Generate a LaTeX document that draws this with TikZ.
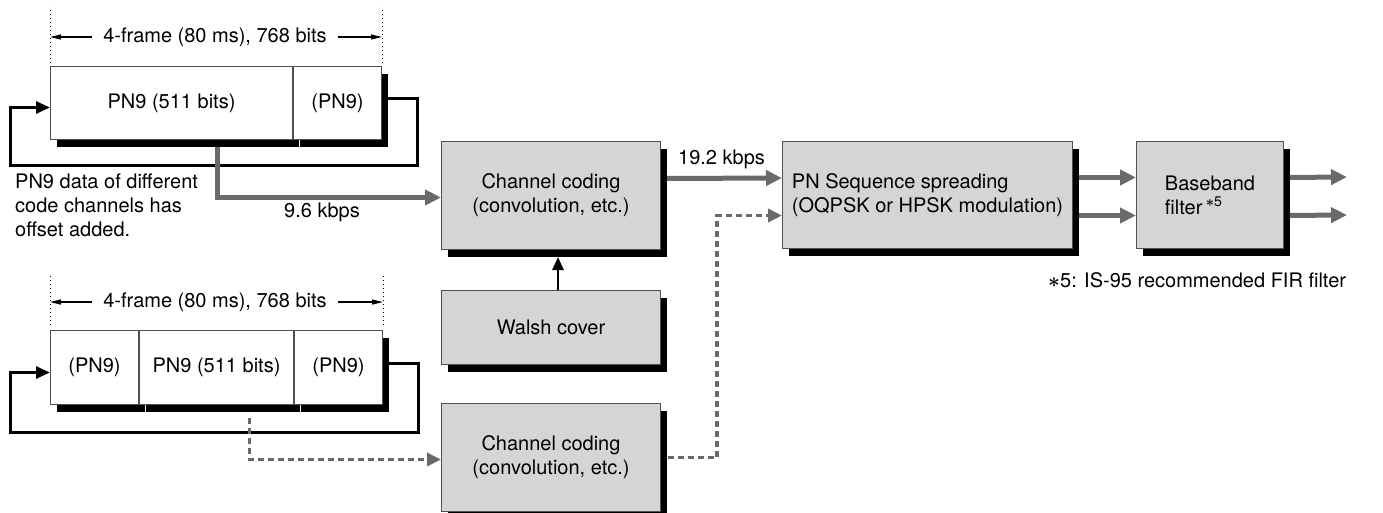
\documentclass[tikz,border=0pt]{standalone}
\usepackage{fontspec}
\setmainfont{TeX Gyre Heros}
\usetikzlibrary{arrows.meta,shadows}
\pgfdeclarelayer{bg}
\pgfsetlayers{bg,main}
\definecolor{boxfill}{HTML}{D5D5D5}
\definecolor{boxline}{HTML}{505050}
\definecolor{arrgray}{HTML}{6A6A6A}
\begin{document}
\begin{tikzpicture}[x=1pt,y=-1pt,
  font=\fontsize{20}{24}\selectfont,
  every node/.style={inner sep=0pt},
  shad/.style={drop shadow={shadow xshift=6pt, shadow yshift=-7pt, fill=black, opacity=1}},
  blk/.style={draw=boxline, line width=1pt, fill=boxfill, anchor=north west, align=center, shad},
  cell/.style={draw=boxline, line width=1pt, fill=white, anchor=north west, shad},
  garr/.style={draw=arrgray, line width=5pt, -{Triangle[length=16pt,width=15pt]}},
  darr/.style={draw=arrgray, line width=3.5pt, dash pattern=on 6pt off 4pt, -{Triangle[length=14pt,width=13pt]}},
  fb/.style={draw=black, line width=3pt, -{Triangle[length=14pt,width=12pt]}},
  warr/.style={draw=black, line width=2.5pt, -{Triangle[length=13pt,width=11pt]}},
  dimarr/.style={draw=black, line width=1.2pt, -{Triangle[length=11pt,width=5pt]}},
  dotln/.style={draw=black, line width=1pt, dash pattern=on 1.2pt off 2.8pt},
  dimtext/.style={inner xsep=11pt}
]
\useasboundingbox (0,0) rectangle (1383,512);

% frame 1
\node[cell, minimum width=242pt, minimum height=73pt] (f1a) at (50,66) {PN9 (511 bits)};
\node[cell, minimum width=88pt, minimum height=73pt] (f1b) at (f1a.north east) {(PN9)};
% frame 2
\node[cell, minimum width=88pt, minimum height=74pt] (f2a) at (50,330) {(PN9)};
\node[cell, minimum width=154pt, minimum height=74pt] (f2b) at (f2a.north east) {PN9 (511 bits)};
\node[cell, minimum width=88pt, minimum height=74pt] (f2c) at (f2b.north east) {(PN9)};

% dimension marks
\draw[dotln] ([yshift=3pt]f1a.north west) -- ++(0,-56);
\draw[dotln] ([yshift=3pt]f1b.north east) -- ++(0,-56);
\node[dimtext] (d1) at (215,37) {4-frame (80 ms), 768 bits};
\draw[dimarr] (d1.west) -- (d1.west -| f1a.north west);
\draw[dimarr] (d1.east) -- (d1.east -| f1b.north east);

\draw[dotln] ([yshift=5pt]f2a.north west) -- ++(0,-51);
\draw[dotln] ([yshift=5pt]f2c.north east) -- ++(0,-51);
\node[dimtext] (d2) at (215,302) {4-frame (80 ms), 768 bits};
\draw[dimarr] (d2.west) -- (d2.west -| f2a.north west);
\draw[dimarr] (d2.east) -- (d2.east -| f2c.north east);

% blocks
\node[blk, minimum width=219pt, minimum height=108pt] (cc1) at (441,141) {Channel coding\\(convolution, etc.)};
\node[blk, minimum width=219pt, minimum height=74pt] (walsh) at (441,290) {Walsh cover};
\node[blk, minimum width=219pt, minimum height=108pt] (cc2) at (441,403) {Channel coding\\(convolution, etc.)};
\node[blk, minimum width=290pt, minimum height=107pt, align=left] (pn) at (782,141) {PN Sequence spreading\\(OQPSK or HPSK modulation)};
\node[blk, minimum width=147pt, minimum height=107pt, align=left] (bb) at (1136,141) {Baseband\\filter\,\raisebox{0.75ex}{\fontsize{14}{14}\selectfont\boldmath$\ast$5}};

% texts
\node[align=left, anchor=west] (note) at (15,205.5) {PN9 data of different\\code channels has\\offset added.};
\node (r96) at (322,212) {9.6 kbps};
\node[anchor=west] (fn) at (1048,280) {{\boldmath$\ast$}5: IS-95 recommended FIR filter};

\coordinate (o1) at (1347,177);
\coordinate (o2) at (1347,215);

% connectors
\begin{pgfonlayer}{bg}
\draw[fb] ([yshift=4.5pt]f1b.east) -- ++(35,0) |- (10,165) |- ([yshift=-4.5pt]f1a.west);
\draw[fb] ([yshift=4pt]f2c.east) -- ++(35,0) |- (10,432) |- ([yshift=-5pt]f2a.west);
\draw[garr] ([xshift=46pt]f1a.south) |- ([yshift=-2pt]cc1.west);
\draw[darr] ([xshift=33pt,yshift=-13pt]f2b.south) |- ([yshift=-2pt]cc2.west);
\draw[garr] ([yshift=17pt]cc1.east) -- node[above=6.5pt] (r192) {19.2 kbps} ([yshift=17pt]pn.west);
\draw[darr] ([xshift=7pt]cc2.east) -- ([xshift=56pt]cc2.east) |- ([yshift=-20.5pt]pn.west);
\draw[garr] ([yshift=17.5pt]pn.east) -- ([yshift=17.5pt]bb.west);
\draw[garr] ([yshift=-20.5pt]pn.east) -- ([yshift=-20.5pt]bb.west);
\draw[garr] ([yshift=17.5pt]bb.east) -- (o1);
\draw[garr] ([yshift=-20.5pt]bb.east) -- (o2);
\end{pgfonlayer}
\draw[warr] ([xshift=7pt]walsh.north) -- ([xshift=7pt,yshift=-7pt]cc1.south);
\end{tikzpicture}
\end{document}
